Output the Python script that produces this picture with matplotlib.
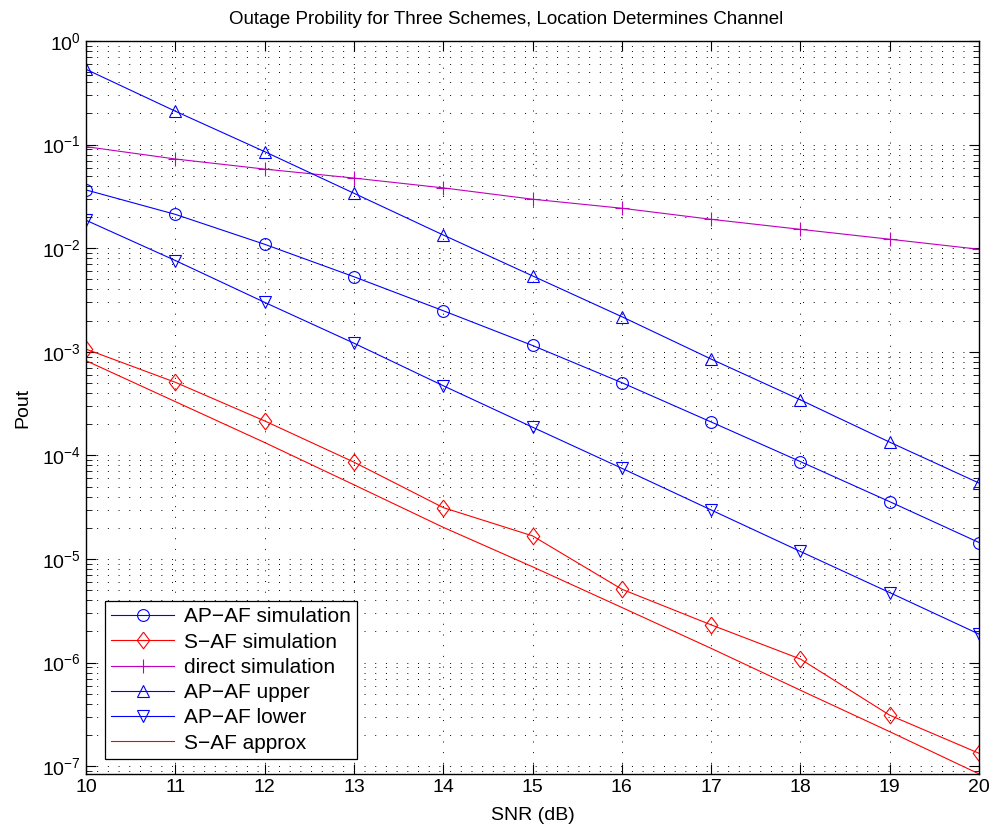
import matplotlib

matplotlib.use("Agg")
import matplotlib.pyplot as plt
from matplotlib.ticker import LogLocator, FixedLocator, NullFormatter

plt.rcParams["font.family"] = ["Liberation Sans", "DejaVu Sans"]
plt.rcParams["mathtext.default"] = "regular"

snr = [10, 11, 12, 13, 14, 15, 16, 17, 18, 19, 20]
pout_decades = [1e-7, 1e-6, 1e-5, 1e-4, 1e-3, 1e-2, 1e-1, 1e0]

ap_af_sim = [0.0365, 0.0212, 0.0109, 5.3e-3, 2.49e-3, 1.15e-3, 5.03e-4, 2.1e-4, 8.7e-5, 3.57e-5, 1.44e-5]
s_af_sim = [1.06e-3, 5.07e-4, 2.15e-4, 8.6e-5, 3.13e-5, 1.67e-5, 5.1e-6, 2.31e-6, 1.08e-6, 3.1e-7, 1.33e-7]
direct_sim = [0.0955, 0.0726, 0.058, 0.0475, 0.0382, 0.0297, 0.0243, 0.019, 0.0152, 0.0122, 0.00976]
ap_af_upper = [0.533, 0.21, 0.0855, 0.0339, 0.0134, 5.4e-3, 2.18e-3, 8.5e-4, 3.43e-4, 1.34e-4, 5.4e-5]
ap_af_lower = [0.0186, 7.6e-3, 3.0e-3, 1.21e-3, 4.7e-4, 1.87e-4, 7.5e-5, 2.97e-5, 1.18e-5, 4.73e-6, 1.88e-6]
s_af_approx = [8.2e-4, 3.3e-4, 1.33e-4, 5.2e-5, 2.02e-5, 8.4e-6, 3.4e-6, 1.37e-6, 5.4e-7, 2.15e-7, 8.4e-8]

diamond = [(0, 1), (0.75, 0), (0, -1), (-0.75, 0), (0, 1)]

fig = plt.figure(figsize=(9.97, 8.35), dpi=100)
ax = fig.add_axes([0.0863, 0.0731, 0.8957, 0.8778])

common = dict(linewidth=0.8, markerfacecolor="none", markeredgewidth=0.8)
ax.semilogy(snr, ap_af_sim, color="blue", marker="o", markersize=8.5, label="AP\u2212AF simulation", **common)
ax.semilogy(snr, s_af_sim, color="red", marker=diamond, markersize=12, label="S\u2212AF simulation", **common)
ax.semilogy(snr, direct_sim, color="m", marker="+", markersize=10, label="direct simulation", **common)
ax.semilogy(snr, ap_af_upper, color="blue", marker="^", markersize=9, label="AP\u2212AF upper", **common)
ax.semilogy(snr, ap_af_lower, color="blue", marker="v", markersize=9, label="AP\u2212AF lower", **common)
ax.semilogy(snr, s_af_approx, color="red", label="S\u2212AF approx", **common)

ax.set_xlim(snr[0], snr[-1])
ax.set_ylim(min(s_af_approx), 1)
ax.xaxis.set_major_locator(FixedLocator(snr))
ax.yaxis.set_major_locator(FixedLocator(pout_decades))
ax.yaxis.set_minor_locator(LogLocator(base=10, subs=range(2, 10), numticks=20))
ax.yaxis.set_minor_formatter(NullFormatter())

grid_style = dict(color="black", linestyle=(0, (1, 10)), linewidth=0.7)
ax.grid(True, which="major", axis="both", **grid_style)
ax.grid(True, which="minor", axis="y", **grid_style)

ax.tick_params(which="both", direction="in", top=True, right=True, labelsize=14)
ax.tick_params(which="major", length=7, width=0.8)
ax.tick_params(which="minor", length=4, width=0.6)
for spine in ax.spines.values():
    spine.set_linewidth(1.0)

ax.set_title("Outage Probility for Three Schemes, Location Determines Channel",
             fontsize=13.5, pad=12, x=0.47)
ax.set_xlabel("SNR (dB)", fontsize=14, labelpad=8)
ax.set_ylabel("Pout", fontsize=14, labelpad=8)

leg = ax.legend(loc="lower left", bbox_to_anchor=(0.0213, 0.0205), borderaxespad=0,
                fontsize=15, handlelength=3.0, labelspacing=0.3, fancybox=False,
                edgecolor="black", framealpha=1, borderpad=0.3, handletextpad=0.5)
leg.get_frame().set_linewidth(0.9)

fig.savefig("out.png", dpi=100)
